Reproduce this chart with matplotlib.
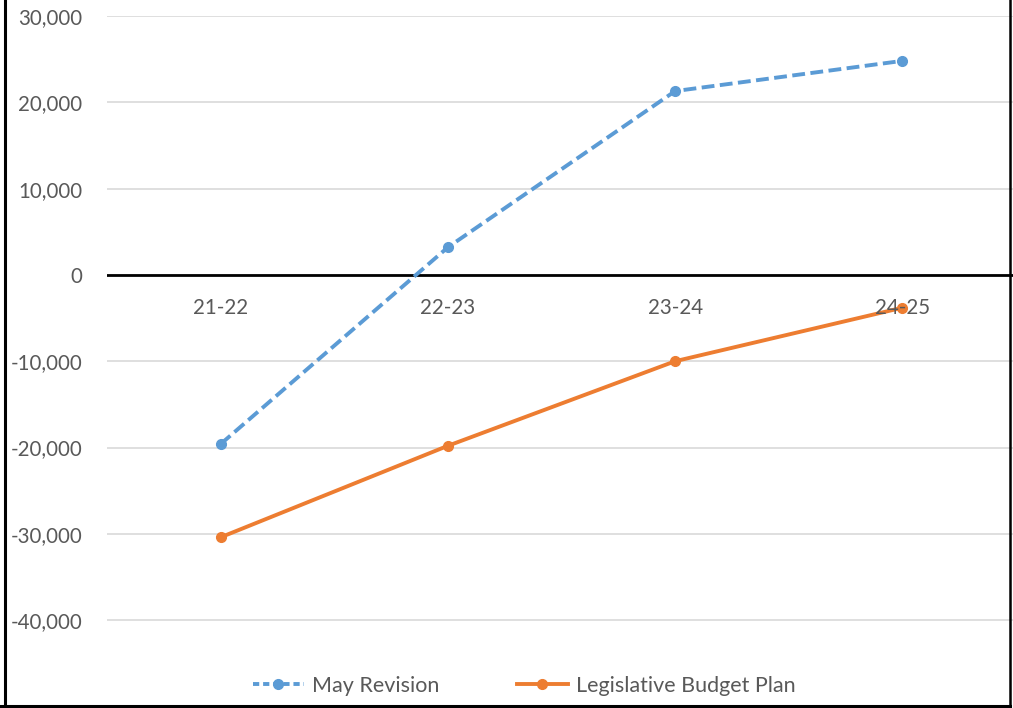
import matplotlib
matplotlib.use("Agg")
import matplotlib.pyplot as plt
from matplotlib.lines import Line2D
from matplotlib.ticker import FuncFormatter

# Chart values
categories = ["21-22", "22-23", "23-24", "24-25"]
may_revision = [-19600, 3200, 21300, 24800]
legislative_plan = [-30400, -19800, -10000, -3800]
y_ticks = [-40000, -30000, -20000, -10000, 0, 10000, 20000, 30000]

BLUE = "#5B9BD5"
ORANGE = "#ED7D31"
TEXT = "#595959"
GRID = "#D9D9D9"

plt.rcParams['font.family'] = ['Lato', 'DejaVu Sans']

fig = plt.figure(figsize=(10.13, 7.08), dpi=100)
W, H = 1013, 708
# axes box in pixels: left 107, right 1016, top 16, bottom 640
ax = fig.add_axes([107 / W, 1 - 640 / H, (1016 - 107) / W, (640 - 16) / H])

x = list(range(len(categories)))
ax.plot(x, may_revision, color=BLUE, lw=2.8, linestyle=(0, (3.3, 1.4)),
        marker="o", markersize=7, label="May Revision", zorder=3)
ax.plot(x, legislative_plan, color=ORANGE, lw=2.8, marker="o", markersize=7,
        label="Legislative Budget Plan", zorder=3)

ax.set_xlim(-0.5, 3.5)
ax.set_ylim(-42300, 30000)
ax.set_yticks(y_ticks)
ax.yaxis.set_major_formatter(FuncFormatter(lambda v, p: f"{int(v):,}"))
ax.tick_params(axis="y", length=0, labelsize=14.8, labelcolor=TEXT, pad=18)
ax.grid(axis="y", color=GRID, lw=1.2)
ax.set_axisbelow(True)
ax.axhline(0, color="black", lw=2, zorder=2)

# category labels sit just under the zero line
ax.set_xticks([])
for i, c in enumerate(categories):
    ax.text(i, -2700, c, ha="center", va="top", fontsize=14.8, color=TEXT, zorder=4)

for s in ax.spines.values():
    s.set_visible(False)

handles = [
    Line2D([], [], color=BLUE, lw=2.8, linestyle=(0, (1.6, 1.0)), marker="o", markersize=7),
    Line2D([], [], color=ORANGE, lw=2.8, marker="o", markersize=7),
]
fig.legend(handles, ["May Revision", "Legislative Budget Plan"], loc="center",
           bbox_to_anchor=(524 / W, 1 - 686 / H), ncol=2, frameon=False,
           fontsize=15.5, labelcolor=TEXT, handlelength=2.4, columnspacing=3.6,
           handletextpad=0.35)

# outer frame (left, right, bottom)
fig.add_artist(Line2D([4.5 / W, 4.5 / W], [0, 1], color="black", lw=2.2))
fig.add_artist(Line2D([1010 / W, 1010 / W], [0, 1], color="black", lw=1.8))
fig.add_artist(Line2D([0, 1010 / W], [2.5 / H, 2.5 / H], color="black", lw=2.2))

fig.savefig("out.png", dpi=100)
